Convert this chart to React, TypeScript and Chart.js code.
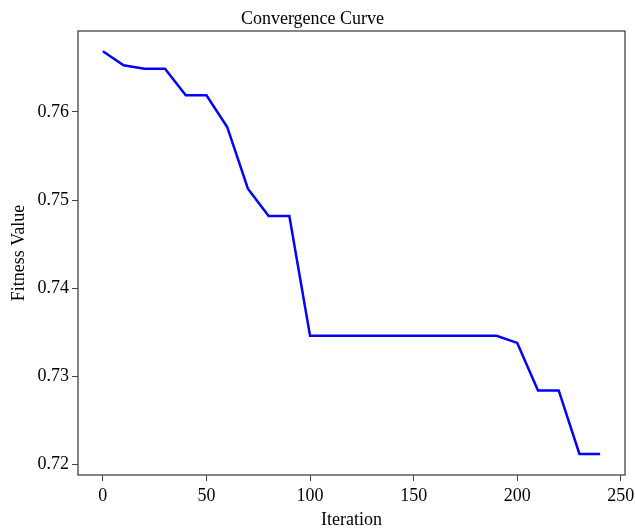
import React, { useEffect, useRef } from 'react';
import { Chart, registerables } from 'chart.js';

Chart.register(...registerables);

const iterations = [0, 10, 20, 30, 40, 50, 60, 70, 80, 90, 100, 110, 120, 130, 140, 150, 160, 170, 180, 190, 200, 210, 220, 230, 240];
const fitness = [0.7669, 0.7653, 0.7649, 0.7649, 0.7619, 0.7619, 0.7583, 0.7513, 0.7482, 0.7482, 0.7346, 0.7346, 0.7346, 0.7346, 0.7346, 0.7346, 0.7346, 0.7346, 0.7346, 0.7346, 0.7338, 0.7284, 0.7284, 0.7212, 0.7212];
const xTicks = [0, 50, 100, 150, 200, 250];
const yTicks = [0.72, 0.73, 0.74, 0.75, 0.76];
const xRange = [-12, 252];
const yRange = [0.71881, 0.76919];

const titleText = 'Convergence Curve';
const xTitle = 'Iteration';
const yTitle = 'Fitness Value';

const FONT = "'Liberation Serif', 'Times New Roman', serif";
const AXIS_COLOR = '#444444';

const boxPlugin = {
  id: 'plotBox',
  afterDraw(chart: any) {
    const { ctx, chartArea } = chart;
    ctx.save();
    ctx.strokeStyle = AXIS_COLOR;
    ctx.lineWidth = 1.3;
    ctx.strokeRect(chartArea.left, chartArea.top, chartArea.right - chartArea.left, chartArea.bottom - chartArea.top);
    ctx.restore();
  },
};

export default function App() {
  const canvasRef = useRef<HTMLCanvasElement | null>(null);

  useEffect(() => {
    document.body.style.margin = '0';
    const canvas = canvasRef.current;
    if (!canvas) return;
    const chart = new Chart(canvas, {
      type: 'line',
      data: {
        datasets: [
          {
            label: 'Fitness',
            data: iterations.map((x, i) => ({ x, y: fitness[i] })),
            borderColor: '#0000ff',
            backgroundColor: '#0000ff',
            borderWidth: 2.5,
            pointRadius: 0,
            tension: 0,
            fill: false,
          },
        ],
      },
      options: {
        animation: false,
        responsive: true,
        maintainAspectRatio: false,
        layout: { padding: { left: 0, right: 10, top: 0, bottom: 0 } },
        plugins: {
          legend: { display: false },
          tooltip: { enabled: false },
          title: {
            display: true,
            text: titleText,
            color: '#000',
            font: { family: FONT, size: 18, weight: 'normal' },
            padding: { top: 8, bottom: 1.4 },
          },
        },
        scales: {
          x: {
            type: 'linear',
            min: xRange[0],
            max: xRange[1],
            afterBuildTicks: (scale: any) => {
              scale.ticks = xTicks.map((v) => ({ value: v }));
            },
            afterFit: (scale: any) => {
              scale.height = 56;
              scale.paddingLeft = 0;
              scale.paddingRight = 0;
            },
            ticks: {
              color: '#000',
              font: { family: FONT, size: 18 },
              padding: 4.5,
              maxRotation: 0,
              autoSkip: false,
            },
            grid: {
              display: true,
              drawOnChartArea: false,
              drawTicks: true,
              tickLength: 6,
              color: AXIS_COLOR,
              lineWidth: 1,
            },
            border: { display: false },
            title: {
              display: true,
              text: xTitle,
              color: '#000',
              font: { family: FONT, size: 18 },
              padding: { top: 0, bottom: 0 },
            },
          },
          y: {
            type: 'linear',
            min: yRange[0],
            max: yRange[1],
            afterBuildTicks: (scale: any) => {
              scale.ticks = yTicks.map((v) => ({ value: v }));
            },
            afterFit: (scale: any) => {
              scale.width = 78;
              scale.paddingTop = 0;
              scale.paddingBottom = 0;
            },
            ticks: {
              color: '#000',
              font: { family: FONT, size: 18 },
              padding: 3,
              autoSkip: false,
              callback: (v: any) => Number(v).toFixed(2),
            },
            grid: {
              display: true,
              drawOnChartArea: false,
              drawTicks: true,
              tickLength: 6,
              color: AXIS_COLOR,
              lineWidth: 1,
            },
            border: { display: false },
            title: {
              display: true,
              text: yTitle,
              color: '#000',
              font: { family: FONT, size: 18 },
              padding: { top: 8, bottom: 0 },
            },
          },
        },
      },
      plugins: [boxPlugin],
    } as any);
    return () => chart.destroy();
  }, []);

  return (
    <div style={{ position: 'relative', width: 635, height: 531 }}>
      <canvas ref={canvasRef} />
    </div>
  );
}
